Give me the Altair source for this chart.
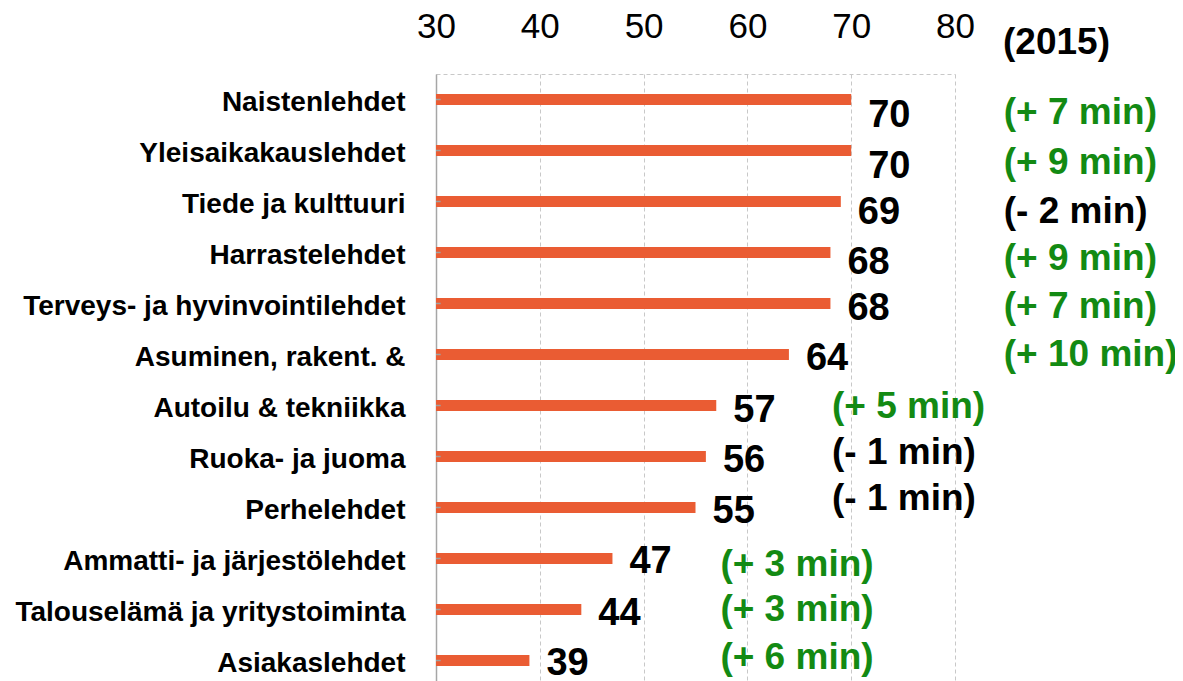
import altair as alt
import pandas as pd

# ---- data ----
categories = [
    "Naistenlehdet", "Yleisaikakauslehdet", "Tiede ja kulttuuri", "Harrastelehdet",
    "Terveys- ja hyvinvointilehdet", "Asuminen, rakent. &", "Autoilu & tekniikka",
    "Ruoka- ja juoma", "Perhelehdet", "Ammatti- ja järjestölehdet",
    "Talouselämä ja yritystoiminta", "Asiakaslehdet",
]
minutes = [70, 70, 69, 68, 68, 64, 57, 56, 55, 47, 44, 39]
changes = ["(+ 7 min)", "(+ 9 min)", "(- 2 min)", "(+ 9 min)", "(+ 7 min)", "(+ 10 min)",
           "(+ 5 min)", "(- 1 min)", "(- 1 min)", "(+ 3 min)", "(+ 3 min)", "(+ 6 min)"]
tick_values = [30, 40, 50, 60, 70, 80]
year_label = "(2015)"

# ---- layout (not data) ----
STEP = 51  # pixel height of one category band
label_dy = [16, 16, 11, 10, 5, 4, 5, 4, 4, 3, 4, 3]        # px from band centre
note_col = [0, 0, 0, 0, 0, 0, 1, 1, 1, 2, 2, 2]
note_col_x = [84.7, 68.15, 57.4]                          # in axis units
note_dy = [13, 12, 10, 6, 3, 0, 1, -4, -9, 6, 0, -3]       # px from band centre

GREEN = "#138a13"
BAR = "#EA5C33"
FONT = "Liberation Sans"

df = pd.DataFrame({
    "cat": categories,
    "min": minutes,
    "chg": changes,
    "ldy": [STEP / 2 + d for d in label_dy],
    "nx": [note_col_x[c] for c in note_col],
    "ndy": [STEP / 2 + d for d in note_dy],
    "pos": ["neg" if c.startswith("(-") else "pos" for c in changes],
})

xscale = alt.Scale(domain=[30, 80], zero=False, nice=False)
yscale = alt.Scale(domain=categories, range=[0, STEP * len(categories)],
                   paddingInner=0, paddingOuter=0)

y_enc = alt.Y("cat:N", scale=yscale, sort=categories, title=None,
              axis=alt.Axis(labelFont=FONT, labelFontWeight="bold", labelFontSize=28,
                            labelColor="black", labelPadding=31, labelOffset=3,
                            ticks=False, domain=True, domainColor="#a6a6a6",
                            domainWidth=1.5, labelLimit=500))

bars = alt.Chart(df).mark_bar(size=11, color=BAR).encode(
    x=alt.X("min:Q", scale=xscale, title=None,
            axis=alt.Axis(orient="top", values=tick_values, labelFont=FONT,
                          labelFontSize=35, labelColor="black", ticks=False,
                          labelPadding=30, grid=True, gridColor="#c8c8c8",
                          gridDash=[4, 3], domain=True, domainColor="#c8c8c8",
                          domainDash=[4, 3], labelFlush=False)),
    x2=alt.datum(30),
    y=y_enc,
)

stubs = alt.Chart(df).mark_rule(color="#a0a0a0", strokeWidth=1.5).encode(
    x=alt.datum(30),
    x2=alt.datum(30.45),
    y=alt.Y("cat:N", scale=yscale, sort=categories),
    yOffset=alt.value(STEP / 2),
)

values = alt.Chart(df).mark_text(
    align="left", baseline="middle", dx=17, font=FONT, fontWeight="bold",
    fontSize=38, color="black",
).encode(
    x=alt.X("min:Q", scale=xscale),
    y=alt.Y("cat:N", scale=yscale, sort=categories),
    yOffset=alt.YOffset("ldy:Q", scale=None),
    text="min:Q",
)

notes = alt.Chart(df).mark_text(
    align="left", baseline="middle", font=FONT, fontWeight="bold", fontSize=37,
).encode(
    x=alt.X("nx:Q", scale=xscale),
    y=alt.Y("cat:N", scale=yscale, sort=categories),
    yOffset=alt.YOffset("ndy:Q", scale=None),
    text="chg:N",
    color=alt.Color("pos:N", scale=alt.Scale(domain=["pos", "neg"], range=[GREEN, "black"]),
                    legend=None),
)

year = alt.Chart(pd.DataFrame({"t": [year_label]})).mark_text(
    align="left", baseline="middle", font=FONT, fontWeight="bold", fontSize=37,
    color="black",
).encode(x=alt.value(567), y=alt.value(-31), text="t:N")

chart = alt.layer(bars, stubs, values, notes, year).properties(
    width=519, height=607,
    autosize=alt.AutoSizeParams(type="none"),
    padding={"left": 428, "top": 66, "right": 220, "bottom": 0},
).configure_view(stroke=None)

chart.save("out.html", embed_options={"renderer": "svg", "actions": False})
